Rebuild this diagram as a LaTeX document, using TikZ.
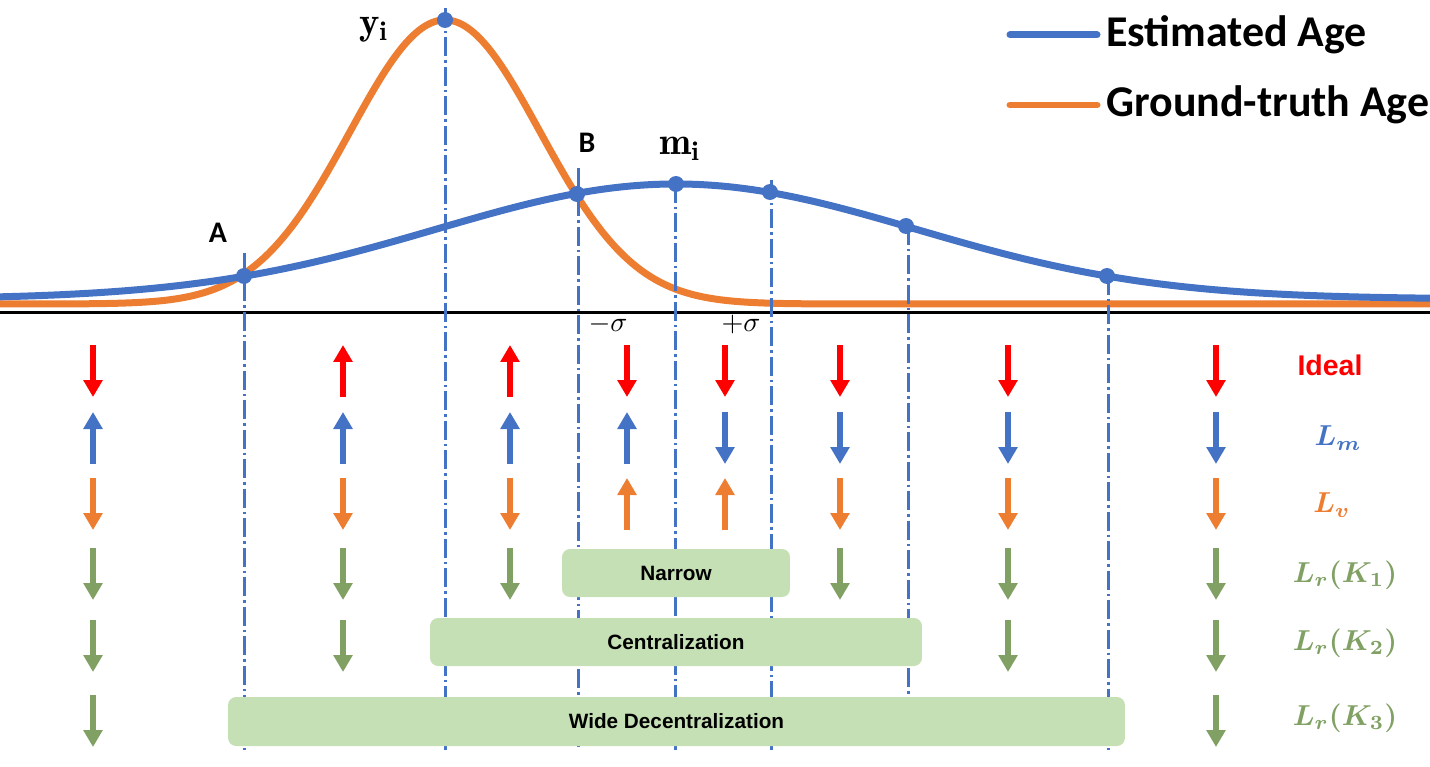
\documentclass[tikz,border=0pt]{standalone}
\usepackage{amsmath}
\usepackage{bm}
\usepackage{graphicx}
\usepackage{fontspec}
\newfontfamily\arialf{Liberation Sans}
\newfontfamily\calibf{Carlito}
\usetikzlibrary{arrows.meta}
\definecolor{cblue}{HTML}{4472C4}
\definecolor{corange}{HTML}{ED7D31}
\definecolor{cred}{HTML}{FF0000}
\definecolor{cgreen}{RGB}{128,160,100}
\definecolor{cbox}{HTML}{C5E0B4}
\begin{document}
\begin{tikzpicture}[x=0.02cm,y=-0.02cm,
  curve/.style={line width=0.14cm},
  vline/.style={cblue, line width=0.06cm, dash pattern=on 0.38cm off 0.08cm on 0.05cm off 0.08cm},
  dot/.style={circle, fill=cblue, inner sep=0pt, minimum size=0.32cm},
  arr/.style={line width=0.125cm, line cap=butt, -{Triangle[width=0.37cm,length=0.34cm]}},
  band/.style={fill=cbox, rounded corners=0.16cm, inner sep=0pt, minimum height=0.96cm, font=\arialf\bfseries\fontsize{11.8}{14}\selectfont},
  legtext/.style={anchor=west, inner sep=0pt, font=\calibf\bfseries\fontsize{25}{30}\selectfont},
  ptlabel/.style={inner sep=0pt, font=\calibf\bfseries\fontsize{17}{20}\selectfont},
  lbl/.style={inner sep=0pt}
]
\useasboundingbox (0,0) rectangle (1430,767);

% curves
\draw[curve, corange] plot[domain=0:1430, samples=300, smooth]
  (\x, {304-284*exp(-min(30, 0.5*((\x-445)/95)^2))});
\draw[curve, cblue] plot[domain=0:1430, samples=300, smooth]
  (\x, {299-115*exp(-0.5*((\x-676)/240)^2)});

% axis
\coordinate (axL) at (0,312);
\coordinate (axR) at (1430,312);
\draw[line width=0.06cm] (axL) -- (axR);

% vertical guide lines
\coordinate (vAt) at (244,253);  \coordinate (vAb) at (244,750);
\coordinate (vYt) at (445,8);    \coordinate (vYb) at (445,750);
\coordinate (vBt) at (578,168);  \coordinate (vBb) at (578,750);
\coordinate (vMt) at (675,184);  \coordinate (vMb) at (675,750);
\coordinate (vPt) at (771,180);  \coordinate (vPb) at (771,750);
\coordinate (vQt) at (908,226);  \coordinate (vQb) at (908,750);
\coordinate (vRt) at (1108,276); \coordinate (vRb) at (1108,750);
\foreach \n in {A,Y,B,M,P,Q,R} \draw[vline] (v\n t) -- (v\n b);

% dots
\node[dot] (pA) at (244,276) {};
\node[dot] (pY) at (445,20) {};
\node[dot] (pB) at (577,194) {};
\node[dot] (pM) at (676,184) {};
\node[dot] (pP) at (770,192) {};
\node[dot] (pQ) at (906,226) {};
\node[dot] (pR) at (1107,276) {};

% point labels
\node[ptlabel] (lA) at (218,233) {A};
\node[ptlabel] (lB) at (587,143) {B};
\node[lbl] (lY) at (374,30) {\scalebox{2.2}{$\mathbf{y}_{\mathbf{i}}$}};
\node[lbl] (lM) at (680,149) {\scalebox{2.2}{$\mathbf{m}_{\mathbf{i}}$}};
\node[lbl] (lms) at (608,324) {\scalebox{1.6}{$-\sigma$}};
\node[lbl] (lps) at (741,324) {\scalebox{1.6}{$+\sigma$}};

% legend
\coordinate (lg1a) at (1010,35);  \coordinate (lg1b) at (1097,35);
\coordinate (lg2a) at (1010,105); \coordinate (lg2b) at (1097,105);
\draw[curve, cblue, line cap=round] (lg1a) -- (lg1b);
\draw[curve, corange, line cap=round] (lg2a) -- (lg2b);
\node[legtext] (t1) at (1106,35) {Estimated Age};
\node[legtext] (t2) at (1106,105) {Ground-truth Age};

% boxes
\node[band, minimum width=4.56cm] (bN) at (676,573) {Narrow};
\node[band, minimum width=9.84cm] (bC) at (676,642) {Centralization};
\node[band, minimum width=17.94cm, minimum height=0.98cm] (bW) at (676.5,721.5) {Wide Decentralization};

% right labels
\node[inner sep=0pt, text=cred, font=\arialf\bfseries\fontsize{16.2}{19}\selectfont] (rI) at (1330,365) {Ideal};
\node[lbl, text=cblue] (rM) at (1338,438) {\scalebox{1.64}{$\bm{L_m}$}};
\node[lbl, text=corange] (rV) at (1332,505) {\scalebox{1.64}{$\bm{L_v}$}};
\node[lbl, text=cgreen] (rK1) at (1345,575) {\scalebox{1.64}{$\bm{L_r(K_1)}$}};
\node[lbl, text=cgreen] (rK2) at (1345,643) {\scalebox{1.64}{$\bm{L_r(K_2)}$}};
\node[lbl, text=cgreen] (rK3) at (1345,718) {\scalebox{1.64}{$\bm{L_r(K_3)}$}};

% arrows row 1 (Ideal)
\foreach \x in {93,627,725,840,1008,1216} \draw[arr, cred] (\x,345) -- (\x,397);
\foreach \x in {343,510} \draw[arr, cred] (\x,397) -- (\x,345);
% row 2 (L_m)
\foreach \x in {725,840,1008,1216} \draw[arr, cblue] (\x,412) -- (\x,464);
\foreach \x in {93,343,510,627} \draw[arr, cblue] (\x,464) -- (\x,412);
% row 3 (L_v)
\foreach \x in {93,343,510,840,1008,1216} \draw[arr, corange] (\x,478) -- (\x,530);
\foreach \x in {627,725} \draw[arr, corange] (\x,530) -- (\x,478);
% row 4
\foreach \x in {93,343,510,840,1008,1216} \draw[arr, cgreen] (\x,548) -- (\x,600);
% row 5
\foreach \x in {93,343,1008,1216} \draw[arr, cgreen] (\x,620) -- (\x,672);
% row 6
\foreach \x in {93,1216} \draw[arr, cgreen] (\x,695) -- (\x,747);
\end{tikzpicture}
\end{document}
